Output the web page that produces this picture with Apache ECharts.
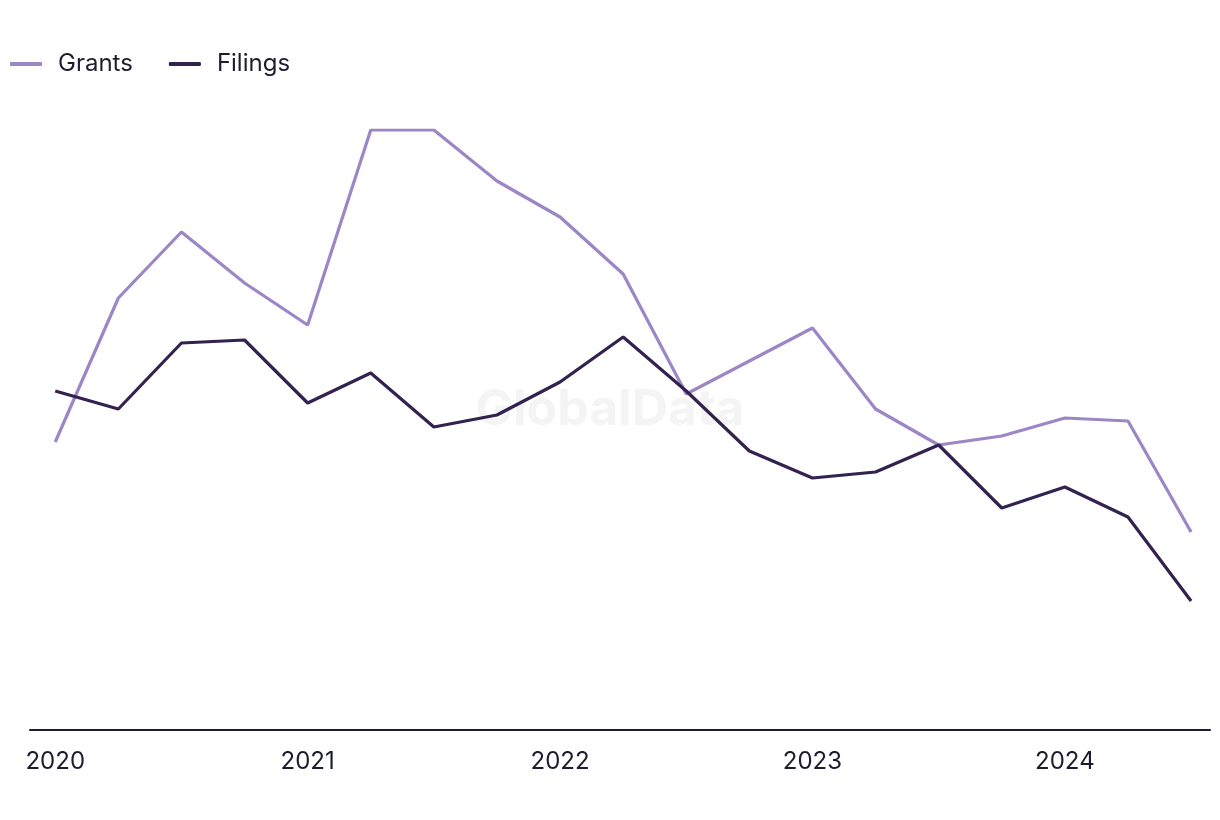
<!DOCTYPE html>
<html>
<head>
<meta charset="utf-8">
<script src="https://cdn.jsdelivr.net/npm/echarts@6/dist/echarts.min.js"></script>
<style>html,body{margin:0;padding:0;background:#fff}#c{width:1220px;height:820px}</style>
</head>
<body>
<div id="c"></div>
<script>
const quarters = ['2020 Q1','2020 Q2','2020 Q3','2020 Q4','2021 Q1','2021 Q2','2021 Q3','2021 Q4','2022 Q1','2022 Q2','2022 Q3','2022 Q4','2023 Q1','2023 Q2','2023 Q3','2023 Q4','2024 Q1','2024 Q2','2024 Q3'];
const grants = [96,144,166,149,135,200,200,183,171,152,112,123,134,107,95,98,104,103,66];
const filings = [113,107,129,130,109,119,101,105,116,131,113,93,84,86,95,74,81,71,43];
const yearTicks = [0,4,8,12,16];
const yearLabels = ['2020','2021','2022','2023','2024'];

const chart = echarts.init(document.getElementById('c'));
const font = 'Inter, "Noto Sans", sans-serif';
chart.setOption({
  animation: false,
  backgroundColor: '#ffffff',
  textStyle: {fontFamily: font},
  legend: {
    left: 5, top: 47,
    icon: 'roundRect', itemWidth: 32, itemHeight: 4, itemGap: 36,
    textStyle: {fontSize: 24, color: '#1c1c2e', fontFamily: font, padding: [0,0,0,11]},
    data: ['Grants','Filings']
  },
  graphic: [{
    type: 'text', left: 'center', top: 385, z: 0, silent: true,
    style: {text: 'GlobalData', fontSize: 50, fontWeight: 'bold', fill: '#f4f4f4', fontFamily: font}
  }],
  grid: {left: 30, right: 10, top: 130, bottom: 90},
  xAxis: {
    type: 'value', min: -0.4, max: 18.3,
    splitLine: {show: false},
    axisLine: {show: true, lineStyle: {color: '#1c1c2e', width: 2}},
    axisTick: {show: false},
    axisLabel: {
      customValues: yearTicks,
      formatter: v => yearLabels[yearTicks.indexOf(Math.round(v))] || '',
      fontSize: 24, color: '#1c1c2e', margin: 20, fontFamily: font
    }
  },
  yAxis: {
    type: 'value', min: 0, max: 200, show: false, splitLine: {show: false}
  },
  series: [
    {
      name: 'Grants', type: 'line', symbol: 'none', z: 3,
      lineStyle: {color: '#9d86c6', width: 3.2},
      itemStyle: {color: '#9d86c6'},
      data: grants.map((v,i) => [i, v])
    },
    {
      name: 'Filings', type: 'line', symbol: 'none', z: 4,
      lineStyle: {color: '#33214f', width: 3.2},
      itemStyle: {color: '#33214f'},
      data: filings.map((v,i) => [i, v])
    }
  ]
});
</script>
</body>
</html>
